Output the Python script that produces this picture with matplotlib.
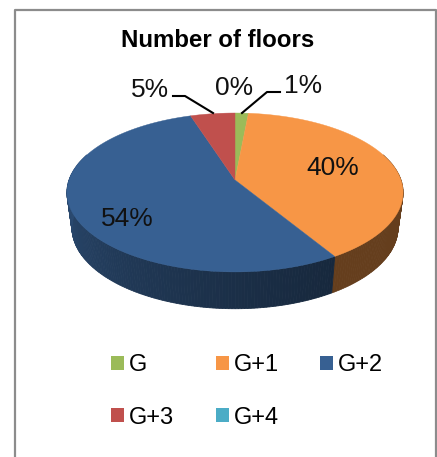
import numpy as np
import matplotlib
matplotlib.use("Agg")
import matplotlib.pyplot as plt
from matplotlib.patches import Patch

title = "Number of floors"
categories = ["G", "G+1", "G+2", "G+3", "G+4"]
# slice sizes, G is really a bit over 1 and shows as 1%
values = [1.5, 40, 54, 5, 0]
pct_labels = ["1%", "40%", "54%", "5%", "0%"]
colors = ["#9BBB59", "#F79646", "#376092", "#C0504D", "#4BACC6"]

label_pos = [(303, 86), (333, 168), (127, 219), (150, 90), (234, 88)]

# perspective of the tilted disc, in pixels
CX = 235
K = -0.157


def rim(theta, y0, rx, ry):
    u = np.sin(theta)
    v = -np.cos(theta)
    w = 1 + K * v
    return CX + rx * u / w, y0 + ry * v / w


def top_rim(theta):
    return rim(theta, 180, 166, 77.5)


def bottom_rim(theta):
    return rim(theta, 215, 161, 79)


fig = plt.figure(figsize=(4.37, 4.57), dpi=100)
ax = fig.add_axes([0, 0, 1, 1])
ax.set_xlim(0, 437)
ax.set_ylim(457, 0)
ax.axis("off")
plt.rcParams["font.family"] = ["Liberation Sans", "DejaVu Sans"]

# chart frame, bottom edge is cut off
ax.plot([14.5, 14.5, 436, 436], [457, 9.5, 9.5, 457], color="#8c8c8c", lw=1.6, solid_capstyle="butt")

edges = np.cumsum([0] + values) / sum(values) * 2 * np.pi

# side wall first, the top face covers the hidden part
for i in range(len(values)):
    a0 = max(edges[i], np.radians(70))
    a1 = min(edges[i + 1], np.radians(290))
    if a1 <= a0:
        continue
    steps = np.linspace(a0, a1, int((a1 - a0) * 60) + 2)
    base = np.array(matplotlib.colors.to_rgb(colors[i]))
    for s0, s1 in zip(steps[:-1], steps[1:]):
        if categories[i] == "G+2":
            shade = 0.42 + 0.43 * ((s0 - a0) / (a1 - a0)) ** 1.2
        else:
            shade = 0.41
        th = np.array([s0, s1])
        xt, yt = top_rim(th)
        xb, yb = bottom_rim(th[::-1])
        ax.fill(np.r_[xt, xb], np.r_[yt, yb], color=base * shade, lw=0.6)

# top face
for i in range(len(values)):
    if values[i] == 0:
        continue
    th = np.linspace(edges[i], edges[i + 1], 200)
    x, y = top_rim(th)
    ax.fill(np.r_[CX, x], np.r_[180, y], color=colors[i], lw=0.3)

for lab, (x, y) in zip(pct_labels, label_pos):
    ax.text(x, y, lab, fontsize=19, ha="center", va="center", color="#111111")

# leader lines for the small slices
ax.plot([173, 185, 213], [96, 96, 113], color="black", lw=1.5)
ax.plot([280, 267, 242], [92, 92, 113], color="black", lw=1.5)

ax.text(218, 40.5, title, fontsize=17.3, fontweight="bold", ha="center", va="center")

# legend fills by column, so reorder to read across in two rows
order = [0, 3, 1, 4, 2]
handles = [Patch(facecolor=colors[i], edgecolor="none", label=categories[i]) for i in order]
ax.legend(handles=handles, ncol=3, loc="upper left", bbox_to_anchor=(111 / 437, 1 - 354 / 457),
          frameon=False, fontsize=17, handlelength=0.55, handleheight=0.55, handletextpad=0.21,
          columnspacing=1.76, labelspacing=1.3, borderpad=0, borderaxespad=0)

fig.savefig("out.png", dpi=100)
